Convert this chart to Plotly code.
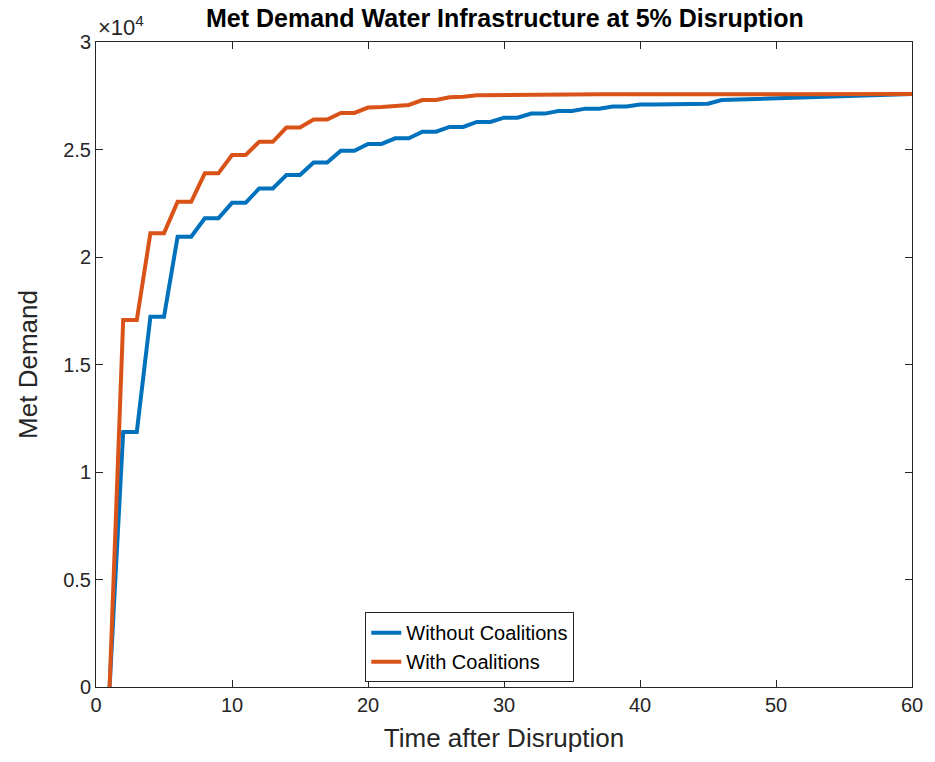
import plotly.graph_objects as go

time = list(range(1, 61))
without_coalitions = [
    0, 11860, 11860, 17220, 17220, 20940, 20940, 21800, 21800, 22520,
    22520, 23190, 23190, 23810, 23810, 24390, 24390, 24940, 24940, 25260,
    25260, 25520, 25520, 25830, 25830, 26050, 26050, 26280, 26280, 26480,
    26480, 26670, 26670, 26790, 26790, 26900, 26900, 27000, 27000, 27090,
    27090, 27110, 27120, 27130, 27130, 27300, 27320, 27340, 27370, 27390,
    27420, 27440, 27460, 27480, 27500, 27520, 27540, 27560, 27575, 27580,
]
with_coalitions = [
    0, 17070, 17070, 21110, 21110, 22570, 22570, 23890, 23890, 24740,
    24740, 25360, 25360, 26020, 26020, 26390, 26390, 26700, 26700, 26950,
    26980, 27040, 27070, 27300, 27300, 27430, 27450, 27520, 27530, 27540,
    27550, 27560, 27560, 27565, 27565, 27570, 27570, 27570, 27570, 27575,
    27575, 27575, 27575, 27575, 27575, 27575, 27578, 27578, 27578, 27578,
    27578, 27580, 27580, 27580, 27580, 27580, 27580, 27580, 27580, 27580,
]
y_tickvals = [0, 5000, 10000, 15000, 20000, 25000, 30000]
y_ticktext = ["0", "0.5", "1", "1.5", "2", "2.5", "3"]
x_tickvals = [0, 10, 20, 30, 40, 50, 60]

FONT = "Liberation Sans, Arial, Helvetica, sans-serif"
AX = "#262626"

fig = go.Figure()
fig.add_trace(go.Scatter(x=time, y=without_coalitions, mode="lines",
                         name="Without Coalitions",
                         line=dict(color="#0072BD", width=4)))
fig.add_trace(go.Scatter(x=time, y=with_coalitions, mode="lines",
                         name="With Coalitions",
                         line=dict(color="#D95319", width=4)))

axis_common = dict(showgrid=False, zeroline=False, showline=True, mirror="ticks",
                   linecolor=AX, linewidth=1, ticks="inside", ticklen=7,
                   tickcolor=AX, tickfont=dict(family=FONT, size=20, color=AX))

fig.update_layout(
    width=935, height=762,
    margin=dict(l=96, r=21, t=42, b=75),
    paper_bgcolor="white", plot_bgcolor="white",
    font=dict(family=FONT, color=AX),
    title=dict(text="<b>Met Demand Water Infrastructure at 5% Disruption</b>",
               x=0.54, xanchor="center", y=0.976, yanchor="middle",
               font=dict(family=FONT, size=25, color="#000000")),
    xaxis=dict(range=[0, 60], tickvals=x_tickvals,
               title=dict(text="Time after Disruption", standoff=13,
                          font=dict(family=FONT, size=26, color=AX)),
               **axis_common),
    yaxis=dict(range=[0, 30000], tickvals=y_tickvals, ticktext=y_ticktext,
               title=dict(text="Met Demand", standoff=18,
                          font=dict(family=FONT, size=26, color=AX)),
               **axis_common),
    legend=dict(x=0.33, y=0.116, xanchor="left", yanchor="top",
                bgcolor="white", bordercolor=AX, borderwidth=1,
                font=dict(family=FONT, size=20, color="#000000"),
                tracegroupgap=0),
    showlegend=True,
)
fig.add_annotation(text="×10<sup>4</sup>", xref="paper", yref="paper",
                   x=0.0, y=1.0, xanchor="left", yanchor="bottom",
                   showarrow=False, yshift=0,
                   font=dict(family=FONT, size=22, color=AX))

fig.write_html("out.html", config={"displayModeBar": False},
               post_script="document.body.style.margin='0';")
